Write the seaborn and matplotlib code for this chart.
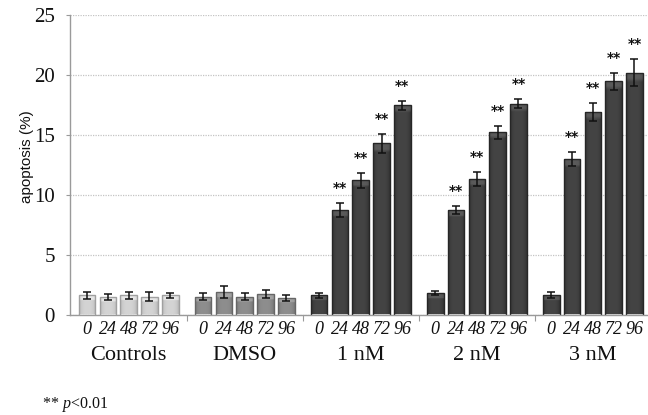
import numpy as np
import pandas as pd
import matplotlib
matplotlib.use("Agg")
import matplotlib.pyplot as plt
import matplotlib.transforms as mtransforms
from matplotlib.colors import to_rgb
import seaborn as sns

# ---- data -------------------------------------------------------------
groups = ["Controls", "DMSO", "1 nM", "2 nM", "3 nM"]
timepoints = ["0", "24", "48", "72", "96"]

controls_mean = [1.6, 1.5, 1.6, 1.5, 1.6]
controls_err = [0.3, 0.25, 0.3, 0.4, 0.2]
dmso_mean = [1.5, 1.9, 1.5, 1.7, 1.4]
dmso_err = [0.3, 0.5, 0.3, 0.35, 0.25]
nm1_mean = [1.6, 8.7, 11.2, 14.3, 17.45]
nm1_err = [0.2, 0.6, 0.6, 0.8, 0.35]
nm2_mean = [1.8, 8.7, 11.3, 15.2, 17.6]
nm2_err = [0.2, 0.35, 0.6, 0.55, 0.4]
nm3_mean = [1.6, 13.0, 16.9, 19.45, 20.2]
nm3_err = [0.25, 0.6, 0.75, 0.75, 1.15]

# significance flags (** p<0.01)
controls_sig = [0, 0, 0, 0, 0]
dmso_sig = [0, 0, 0, 0, 0]
nm1_sig = [0, 1, 1, 1, 1]
nm2_sig = [0, 1, 1, 1, 1]
nm3_sig = [0, 1, 1, 1, 1]

means = [controls_mean, dmso_mean, nm1_mean, nm2_mean, nm3_mean]
errs = [controls_err, dmso_err, nm1_err, nm2_err, nm3_err]
sigs = [controls_sig, dmso_sig, nm1_sig, nm2_sig, nm3_sig]

# ---- layout -----------------------------------------------------------
GROUP_STEP = 5.58          # distance between first bars of adjacent groups
rows = []
for gi, g in enumerate(groups):
    for ti, t in enumerate(timepoints):
        rows.append(dict(group=g, time=t, pos=gi * GROUP_STEP + ti,
                         value=means[gi][ti], err=errs[gi][ti], sig=sigs[gi][ti]))
df = pd.DataFrame(rows)

face = {"Controls": "#d4d4d4", "DMSO": "#8e8e8e",
        "1 nM": "#444444", "2 nM": "#444444", "3 nM": "#444444"}
edge = {"Controls": "#a0a0a0", "DMSO": "#666666",
        "1 nM": "#262626", "2 nM": "#262626", "3 nM": "#262626"}

sns.set_theme(style="white")
plt.rcParams["font.family"] = ["Liberation Serif", "DejaVu Serif"]
plt.rcParams["mathtext.fontset"] = "custom"
plt.rcParams["mathtext.rm"] = "Liberation Serif"
plt.rcParams["mathtext.it"] = "Liberation Serif:italic"

fig = plt.figure(figsize=(6.48, 4.15), dpi=100)
ax = fig.add_axes([70 / 648, 1 - 314.5 / 415, 1 - 70 / 648, 299.5 / 415])

sns.barplot(data=df, x="pos", y="value", hue="group", palette=face,
            native_scale=True, width=0.8, errorbar=None, legend=False,
            linewidth=1.0, edgecolor="#333333", ax=ax, zorder=2)

ax.set_ylim(0, 25)
ax.set_xlim(-0.82, 26.97)

# bevelled shading inside every bar
bars = [p for p in ax.patches if p.get_height() > 0]
bars.sort(key=lambda p: p.get_x())
xs = np.linspace(0, 1, 40)
side = np.clip(np.abs(xs - 0.5) * 2, 0, 1) ** 3      # darker towards both sides
for p, g in zip(bars, df["group"]):
    base = np.array(to_rgb(face[g]))
    dark = np.array(to_rgb(edge[g]))
    x0, w, h = p.get_x(), p.get_width(), p.get_height()
    # height of the light cap in data units (~6 px)
    cap = min(6 / 12.0, h * 0.3)
    ny = 60
    ys = np.linspace(0, 1, ny)[:, None]                # 0 = top row
    img = base[None, None, :] * (1 - 0.55 * side[None, :, None]) + \
        dark[None, None, :] * (0.55 * side[None, :, None])
    img = np.repeat(img, ny, axis=0)
    top_rows = (ys * h) < cap
    light = np.minimum(base + 0.18, 1.0)
    img[top_rows[:, 0]] = img[top_rows[:, 0]] * 0.5 + light * 0.5
    im = ax.imshow(img, extent=[x0, x0 + w, 0, h], origin="upper",
                   aspect="auto", zorder=2, interpolation="bilinear")
    im.set_clip_path(p)
    p.set_facecolor("none")
    p.set_edgecolor(edge[g])
    p.set_zorder(2.5)

ax.errorbar(df["pos"], df["value"], yerr=df["err"], fmt="none",
            ecolor="#111111", elinewidth=1.1, capsize=3, capthick=1.1, zorder=3)

for _, r in df.iterrows():
    if r["sig"]:
        ax.text(r["pos"], r["value"] + r["err"] + 1.25, "**",
                ha="center", va="center", fontsize=10, fontweight="bold",
                family="DejaVu Sans", color="#111111")

# axes styling
ax.set_ylim(0, 25)
ax.set_xlim(-0.82, 26.97)
ax.set_yticks([0, 5, 10, 15, 20, 25])
ax.yaxis.grid(True, linestyle=(0, (1, 1)), color="#c4c4c4", linewidth=0.9, zorder=0)
ax.set_axisbelow(True)
for s in ["top", "right"]:
    ax.spines[s].set_visible(False)
for s in ["left", "bottom"]:
    ax.spines[s].set_color("#9a9a9a")
    ax.spines[s].set_linewidth(1.0)

ax.tick_params(axis="y", which="major", length=3, width=0.8, color="#9a9a9a",
               pad=8, labelsize=15, labelcolor="#111111", left=True)
ax.set_xticks(df["pos"])
ax.set_xticklabels(df["time"], fontstyle="italic", fontsize=13)
ax.tick_params(axis="x", which="major", length=0, pad=5, labelcolor="#111111")

# group separators on the x axis
boundaries = [gi * GROUP_STEP + (4 + GROUP_STEP) / 2 for gi in range(len(groups) - 1)]
ax.set_xticks(boundaries, minor=True)
ax.tick_params(axis="x", which="minor", length=4, width=0.8, color="#9a9a9a",
               direction="out", bottom=True)

ax.set_xlabel("")
ax.set_ylabel("apoptosis (%)", family="Liberation Sans", fontsize=11,
              color="#111111")
ax.yaxis.set_label_coords(-36 / 578, 0.527)

# group names below the time labels
trans = mtransforms.blended_transform_factory(ax.transData, ax.transAxes)
for gi, g in enumerate(groups):
    ax.text(gi * GROUP_STEP + 2, -40.5 / 299.5, g, transform=trans,
            ha="center", va="center", fontsize=16, color="#111111")

fig.text(42 / 648, 1 - 404 / 415, "** $p$<0.01", ha="left", va="center",
         fontsize=11.5, color="#111111")

fig.savefig("out.png", dpi=100)
